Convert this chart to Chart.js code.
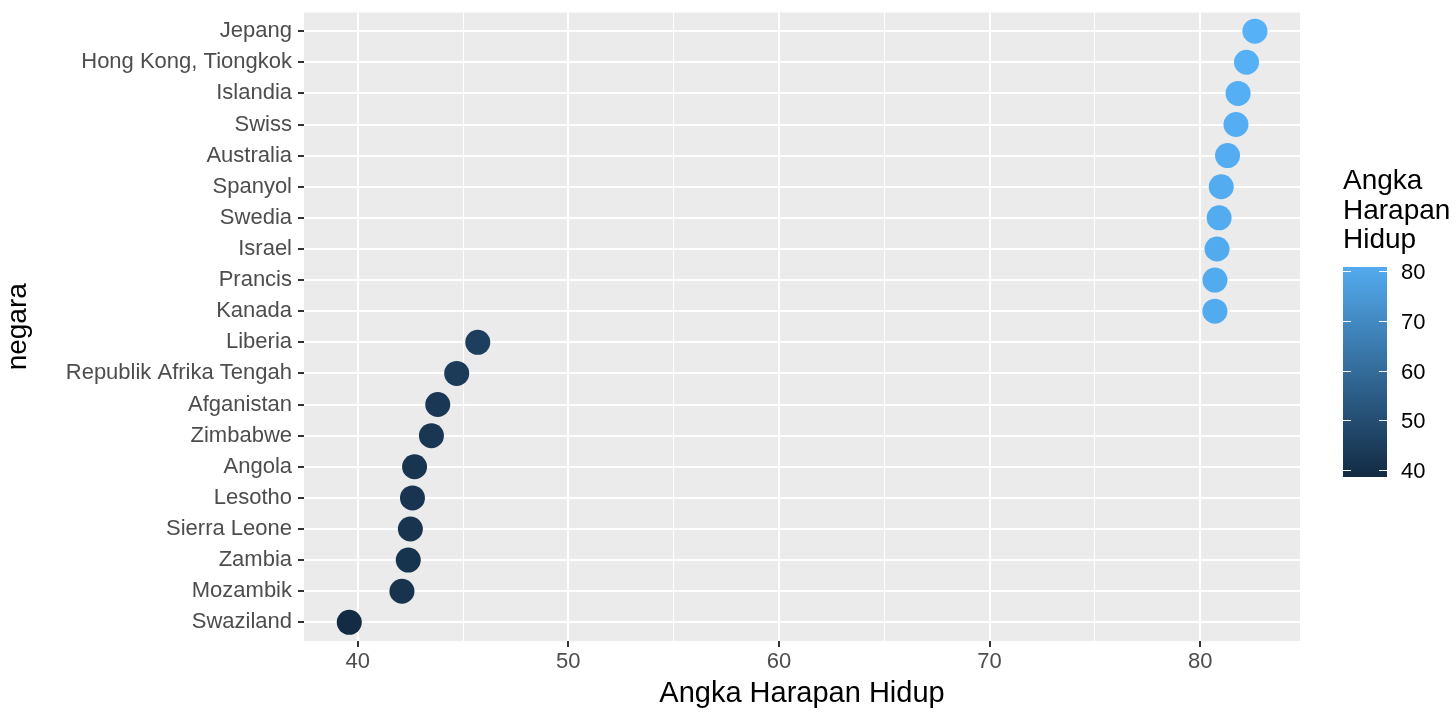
<!DOCTYPE html>
<html lang="id">
<head>
    <meta charset="UTF-8">
    <title>Angka Harapan Hidup</title>
    <script src="https://cdn.jsdelivr.net/npm/chart.js"></script>
    <style>
        body { margin: 0; background: #ffffff; }
        #wrap { width: 1456px; height: 720px; position: relative; }
    </style>
</head>
<body>
<div id="wrap"><canvas id="dotChart"></canvas></div>

<script>
    // dati (dall'alto in basso)
    const countries = [
        'Jepang', 'Hong Kong, Tiongkok', 'Islandia', 'Swiss', 'Australia',
        'Spanyol', 'Swedia', 'Israel', 'Prancis', 'Kanada',
        'Liberia', 'Republik Afrika Tengah', 'Afganistan', 'Zimbabwe', 'Angola',
        'Lesotho', 'Sierra Leone', 'Zambia', 'Mozambik', 'Swaziland'
    ];
    const lifeExp = [
        82.6, 82.2, 81.8, 81.7, 81.3,
        81.0, 80.9, 80.8, 80.7, 80.7,
        45.7, 44.7, 43.8, 43.5, 42.7,
        42.6, 42.5, 42.4, 42.1, 39.6
    ];
    const xTicks = [40, 45, 50, 55, 60, 65, 70, 75, 80];
    const legendTicks = [40, 50, 60, 70, 80];

    const lowColor = [19, 43, 67];     // #132B43
    const highColor = [86, 177, 247];  // #56B1F7
    const minVal = Math.min(...lifeExp);
    const maxVal = Math.max(...lifeExp);

    function colorFor(v) {
        const t = Math.max(0, Math.min(1, (v - minVal) / (maxVal - minVal)));
        const c = lowColor.map((lo, k) => Math.round(lo + (highColor[k] - lo) * t));
        return 'rgb(' + c.join(',') + ')';
    }

    const fontFam = '"Liberation Sans", Arial, sans-serif';

    // sfondo grigio del pannello
    const panelBg = {
        id: 'panelBg',
        beforeDraw(chart) {
            const { ctx, chartArea: a } = chart;
            ctx.save();
            ctx.fillStyle = '#EBEBEB';
            ctx.fillRect(a.left, a.top, a.right - a.left, a.bottom - a.top);
            ctx.restore();
        }
    };

    // legenda a barra di colore
    const colorBar = {
        id: 'colorBar',
        afterDraw(chart) {
            const ctx = chart.ctx;
            const x0 = 1343, w = 44, top = 267, bottom = 477;
            const y80 = 271, y40 = 470;
            const yOf = v => y40 + (v - 40) * (y80 - y40) / 40;
            const yToVal = y => 40 + (y - y40) * 40 / (y80 - y40);
            ctx.save();
            ctx.fillStyle = '#000';
            ctx.font = '28px ' + fontFam;
            ctx.textBaseline = 'alphabetic';
            ctx.fillText('Angka', x0, 189);
            ctx.fillText('Harapan', x0, 219);
            ctx.fillText('Hidup', x0, 248);

            const g = ctx.createLinearGradient(0, bottom, 0, top);
            g.addColorStop(0, colorFor(yToVal(bottom)));
            g.addColorStop(1, colorFor(yToVal(top)));
            ctx.fillStyle = g;
            ctx.fillRect(x0, top, w, bottom - top);

            ctx.strokeStyle = '#ffffff';
            ctx.lineWidth = 1;
            ctx.font = '22px ' + fontFam;
            ctx.fillStyle = '#000';
            ctx.textBaseline = 'middle';
            legendTicks.forEach(v => {
                const y = Math.round(yOf(v)) + 0.5;
                ctx.beginPath();
                ctx.moveTo(x0, y); ctx.lineTo(x0 + 8, y);
                ctx.moveTo(x0 + w - 8, y); ctx.lineTo(x0 + w, y);
                ctx.stroke();
                ctx.fillText(String(v), 1401, y + 1);
            });
            ctx.restore();
        }
    };

    const ctx = document.getElementById('dotChart').getContext('2d');
    const dotChart = new Chart(ctx, {
        type: 'scatter',
        data: {
            datasets: [{
                label: 'Angka Harapan Hidup',
                data: lifeExp.map((v, i) => ({ x: v, y: i })),
                pointRadius: 12.5,
                pointHoverRadius: 12.5,
                pointBorderWidth: 0,
                pointBackgroundColor: lifeExp.map(colorFor),
                pointBorderColor: lifeExp.map(colorFor)
            }]
        },
        options: {
            responsive: true,
            maintainAspectRatio: false,
            animation: false,
            layout: { padding: { top: 10, right: 156, left: 0, bottom: 0 } },
            plugins: {
                legend: { display: false },
                tooltip: { enabled: false }
            },
            scales: {
                x: {
                    type: 'linear',
                    min: 37.45,
                    max: 84.74,
                    afterBuildTicks: s => { s.ticks = xTicks.map(v => ({ value: v })); },
                    afterFit: s => { s.height = 79; },
                    border: { display: false },
                    grid: {
                        color: '#ffffff',
                        lineWidth: c => (c.tick && c.tick.value % 10 === 0) ? 2 : 1,
                        tickColor: c => (c.tick && c.tick.value % 10 === 0) ? '#333333' : 'rgba(0,0,0,0)',
                        tickLength: 6,
                        tickWidth: 2
                    },
                    ticks: {
                        callback: v => (v % 10 === 0 ? v : ''),
                        color: '#4D4D4D',
                        font: { family: fontFam, size: 22 },
                        padding: 2,
                        maxRotation: 0,
                        autoSkip: false
                    },
                    title: {
                        display: true,
                        text: 'Angka Harapan Hidup',
                        color: '#000',
                        font: { family: fontFam, size: 29 },
                        padding: { top: 0, bottom: 9 }
                    }
                },
                y: {
                    type: 'linear',
                    min: -0.6,
                    max: 19.6,
                    reverse: true,
                    afterBuildTicks: s => { s.ticks = countries.map((c, i) => ({ value: i })); },
                    afterFit: s => { s.width = 304; s.paddingTop = 0; s.paddingBottom = 0; },
                    border: { display: false },
                    grid: {
                        color: '#ffffff',
                        lineWidth: 2,
                        tickColor: '#333333',
                        tickLength: 6,
                        tickWidth: 2
                    },
                    ticks: {
                        callback: v => countries[v],
                        color: '#4D4D4D',
                        font: { family: fontFam, size: 22 },
                        padding: 6,
                        autoSkip: false
                    },
                    title: {
                        display: true,
                        text: 'negara',
                        color: '#000',
                        font: { family: fontFam, size: 28 },
                        padding: { top: 1, bottom: 0 }
                    }
                }
            }
        },
        plugins: [panelBg, colorBar]
    });
</script>
</body>
</html>
